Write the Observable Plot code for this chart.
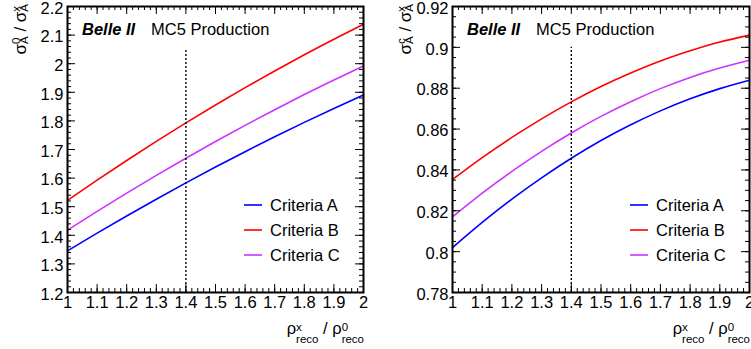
<!DOCTYPE html>
<html>
<head>
<meta charset="utf-8">
<script src="https://cdn.jsdelivr.net/npm/d3@7"></script>
<script src="https://cdn.jsdelivr.net/npm/@observablehq/plot@0.6"></script>
<style>
html, body { margin: 0; padding: 0; background: #fff; overflow: hidden; }
#wrap { position: relative; width: 751px; height: 349px; overflow: hidden; background: #fff; }
#wrap svg { position: absolute; top: 0; }
</style>
</head>
<body>
<div id="wrap"></div>
<script>
// ---- data ----
const ratioX = [1.0, 1.1, 1.2, 1.3, 1.4, 1.5, 1.6, 1.7, 1.8, 1.9, 2.0];

// left panel: sigma_A^0 / sigma_A^x
const left_A = [1.3455, 1.4074, 1.4676, 1.5262, 1.5832, 1.6386, 1.6923, 1.7444, 1.7949, 1.8437, 1.8909];
const left_B = [1.5220, 1.5928, 1.6616, 1.7283, 1.7930, 1.8556, 1.9162, 1.9747, 2.0312, 2.0856, 2.1380];
const left_C = [1.4180, 1.4835, 1.5474, 1.6094, 1.6696, 1.7280, 1.7845, 1.8392, 1.8921, 1.9431, 1.9923];

// right panel: sigma_A^c / sigma_A^x
const right_A = [0.8020, 0.8143, 0.8257, 0.8361, 0.8457, 0.8544, 0.8621, 0.8689, 0.8748, 0.8798, 0.8839];
const right_B = [0.8353, 0.8460, 0.8559, 0.8650, 0.8733, 0.8808, 0.8874, 0.8933, 0.8983, 0.9026, 0.9060];
const right_C = [0.8170, 0.8286, 0.8393, 0.8491, 0.8581, 0.8662, 0.8734, 0.8798, 0.8853, 0.8899, 0.8937];

const seriesNames = ["Criteria A", "Criteria B", "Criteria C"];
const seriesColors = ["#0000ff", "#ff0000", "#cc33ff"];

// tick labels
const xMajor = [1, 1.1, 1.2, 1.3, 1.4, 1.5, 1.6, 1.7, 1.8, 1.9, 2];
const leftYMajor = [1.2, 1.3, 1.4, 1.5, 1.6, 1.7, 1.8, 1.9, 2, 2.1, 2.2];
const rightYMajor = [0.78, 0.8, 0.82, 0.84, 0.86, 0.88, 0.9, 0.92];

// dotted reference line
const cutX = [1.4];
const leftCutTop = 2.05;
const rightCutTop = 0.90;

const FONT = "'Liberation Sans', Arial, Helvetica, sans-serif";

function minorTicks(lo, hi, step) {
  const n = Math.round((hi - lo) / step);
  return d3.range(0, n + 1).map(i => +(lo + i * step).toFixed(4));
}

function panel(cfg) {
  const W = cfg.width, H = 349;
  const mL = cfg.marginLeft, mR = cfg.marginRight, mT = 6, mB = 57;
  const iw = W - mL - mR, ih = H - mT - mB;
  const rows = [];
  seriesNames.forEach((name, k) =>
    cfg.series[k].forEach((v, i) => rows.push({x: ratioX[i], y: v, series: name})));
  const fmt = d => String(d);
  const xMinor = minorTicks(1, 2, 0.02);
  const yMinor = minorTicks(cfg.yDomain[0], cfg.yDomain[1], cfg.yMinorStep);
  const MAJ = 8, MIN = 4;
  const plot = Plot.plot({
    width: W, height: H,
    marginLeft: mL, marginRight: mR, marginTop: mT, marginBottom: mB,
    style: {fontFamily: FONT, fontSize: "16.5px", background: "white", color: "black"},
    x: {domain: [1, 2]},
    y: {domain: cfg.yDomain},
    color: {domain: seriesNames, range: seriesColors},
    marks: [
      Plot.line(rows, {x: "x", y: "y", z: "series", stroke: "series", strokeWidth: 1.6, curve: "natural"}),
      Plot.ruleX(cutX, {x: d => d, y1: cfg.yDomain[0], y2: cfg.cutTop, stroke: "black", strokeWidth: 1.4, strokeDasharray: "2,2"}),
      // bottom & top ticks
      Plot.tickX(xMinor, {x: d => d, insetTop: ih - MIN, stroke: "black", strokeWidth: 1}),
      Plot.tickX(xMajor, {x: d => d, insetTop: ih - MAJ, stroke: "black", strokeWidth: 1}),
      Plot.tickX(xMinor, {x: d => d, insetBottom: ih - MIN, stroke: "black", strokeWidth: 1}),
      Plot.tickX(xMajor, {x: d => d, insetBottom: ih - MAJ, stroke: "black", strokeWidth: 1}),
      // left & right ticks
      Plot.tickY(yMinor, {y: d => d, insetRight: iw - MIN, stroke: "black", strokeWidth: 1}),
      Plot.tickY(cfg.yMajor, {y: d => d, insetRight: iw - MAJ, stroke: "black", strokeWidth: 1}),
      Plot.tickY(yMinor, {y: d => d, insetLeft: iw - MIN, stroke: "black", strokeWidth: 1}),
      Plot.tickY(cfg.yMajor, {y: d => d, insetLeft: iw - MAJ, stroke: "black", strokeWidth: 1}),
      Plot.axisX(xMajor, {tickSize: 0, tickPadding: 4, tickFormat: fmt, label: null}),
      Plot.axisY(cfg.yMajor, {tickSize: 0, tickPadding: 4, tickFormat: fmt, label: null, dy: 2}),
      Plot.frame({stroke: "black", strokeWidth: 2})
    ]
  });
  plot.style.left = cfg.left + "px";
  document.getElementById("wrap").appendChild(plot);

  const svg = d3.select(plot);
  const SUP = 11.5;
  // header text
  svg.append("text").attr("x", mL + 15).attr("y", 35).attr("text-anchor", "start")
    .attr("font-family", FONT).attr("font-size", 16.5)
    .attr("font-weight", "bold").attr("font-style", "italic").text("Belle II");
  svg.append("text").attr("x", mL + 84).attr("y", 35).attr("text-anchor", "start")
    .attr("font-family", FONT).attr("font-size", 16.5).text("MC5 Production");

  // legend
  const xr = W - mR;
  seriesNames.forEach((name, k) => {
    svg.append("line").attr("x1", xr - 119).attr("x2", xr - 101)
      .attr("y1", 205 + 25 * k).attr("y2", 205 + 25 * k)
      .attr("stroke", seriesColors[k]).attr("stroke-width", 1.6);
    svg.append("text").attr("x", xr - 93).attr("y", 211 + 25 * k).attr("text-anchor", "start")
      .attr("font-family", FONT).attr("font-size", 16.5).text(name);
  });

  // y title
  const yt = svg.append("text")
    .attr("transform", `translate(${mL - 41},4) rotate(-90)`)
    .attr("text-anchor", "end").attr("font-family", FONT).attr("font-size", 17);
  yt.append("tspan").text("σ");
  yt.append("tspan").attr("font-size", SUP).attr("dy", -5.7).text(cfg.ySup);
  yt.append("tspan").attr("font-size", SUP).attr("dx", -cfg.ySupW).attr("dy", 8).text("A");
  yt.append("tspan").attr("dy", -2.3).text(" / σ");
  yt.append("tspan").attr("font-size", SUP).attr("dy", -5.7).text("x");
  yt.append("tspan").attr("font-size", SUP).attr("dx", -5.75).attr("dy", 8).text("A");

  // x title
  const xt = svg.append("text")
    .attr("transform", `translate(${xr + 1},333.5)`)
    .attr("text-anchor", "end").attr("font-family", FONT).attr("font-size", 16.5);
  xt.append("tspan").text("ρ");
  xt.append("tspan").attr("font-size", SUP).attr("dy", -2.5).text("x");
  xt.append("tspan").attr("font-size", SUP).attr("dx", -5.75).attr("dy", 12).text("reco");
  xt.append("tspan").attr("dy", -9.5).text(" / ρ");
  xt.append("tspan").attr("font-size", SUP).attr("dy", -2.5).text("0");
  xt.append("tspan").attr("font-size", SUP).attr("dx", -6.4).attr("dy", 12).text("reco");
}

panel({left: 0, width: 375, marginLeft: 67, marginRight: 12,
  yDomain: [1.2, 2.2], yMajor: leftYMajor, yMinorStep: 0.02,
  series: [left_A, left_B, left_C], cutTop: leftCutTop, ySup: "0", ySupW: 6.4});
panel({left: 376, width: 376, marginLeft: 76, marginRight: 3,
  yDomain: [0.78, 0.92], yMajor: rightYMajor, yMinorStep: 0.005,
  series: [right_A, right_B, right_C], cutTop: rightCutTop, ySup: "c", ySupW: 5.75});
</script>
</body>
</html>
